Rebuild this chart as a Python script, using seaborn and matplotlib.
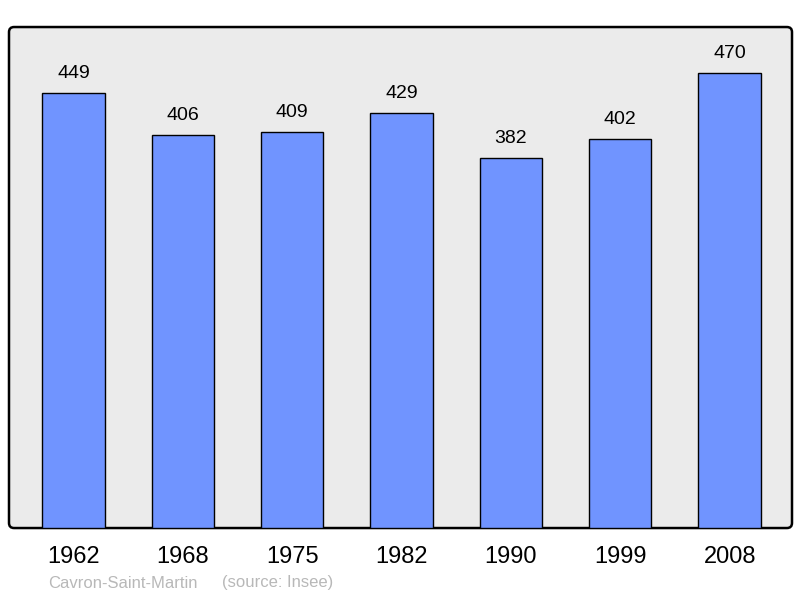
import seaborn as sns
import matplotlib.pyplot as plt
from matplotlib.patches import FancyBboxPatch

# Population of Cavron-Saint-Martin by census year
years = ['1962', '1968', '1975', '1982', '1990', '1999', '2008']
population = [449, 406, 409, 429, 382, 402, 470]

BAR_COLOR = '#7094ff'
BG_COLOR = '#ebebeb'

sns.set_style('white')
plt.rcParams['font.family'] = ['Liberation Sans', 'DejaVu Sans']
plt.rcParams['text.color'] = 'black'
plt.rcParams['xtick.color'] = 'black'

fig = plt.figure(figsize=(8, 5.98), dpi=100)
ax = fig.add_axes([0.01125, 0.117, 0.97875, 0.8378])

sns.barplot(x=years, y=population, color=BAR_COLOR, saturation=1,
            width=0.57, edgecolor='black', linewidth=1, ax=ax, zorder=2)

# value labels above bars
for i, v in enumerate(population):
    ax.annotate(str(v), (i, v), xytext=(0, 8), textcoords='offset points',
                ha='center', va='bottom', fontsize=14, color='black')

ax.set_xlim(-0.59, 6.57)
ax.set_ylim(0, 517.6)
ax.set_yticks([])
ax.tick_params(axis='x', length=0, pad=13, labelsize=17, labelcolor='black')
ax.set_xlabel('')
ax.set_ylabel('')

# rounded frame instead of plain spines
for s in ax.spines.values():
    s.set_visible(False)
ax.patch.set_visible(False)
frame = FancyBboxPatch((0, 0), 1, 1, boxstyle='round,pad=0,rounding_size=0.0065',
                       mutation_aspect=1.56, transform=ax.transAxes,
                       facecolor=BG_COLOR, edgecolor='black', linewidth=1.8,
                       clip_on=False, zorder=0)
ax.add_patch(frame)

fig.text(48 / 800, 1 - 583 / 598, 'Cavron-Saint-Martin', color='#b8b8b8',
         fontsize=12, ha='left', va='center')
fig.text(222 / 800, 1 - 583 / 598, '(source: Insee)', color='#b8b8b8',
         fontsize=12, ha='left', va='center')

fig.savefig('out.png', dpi=100)
